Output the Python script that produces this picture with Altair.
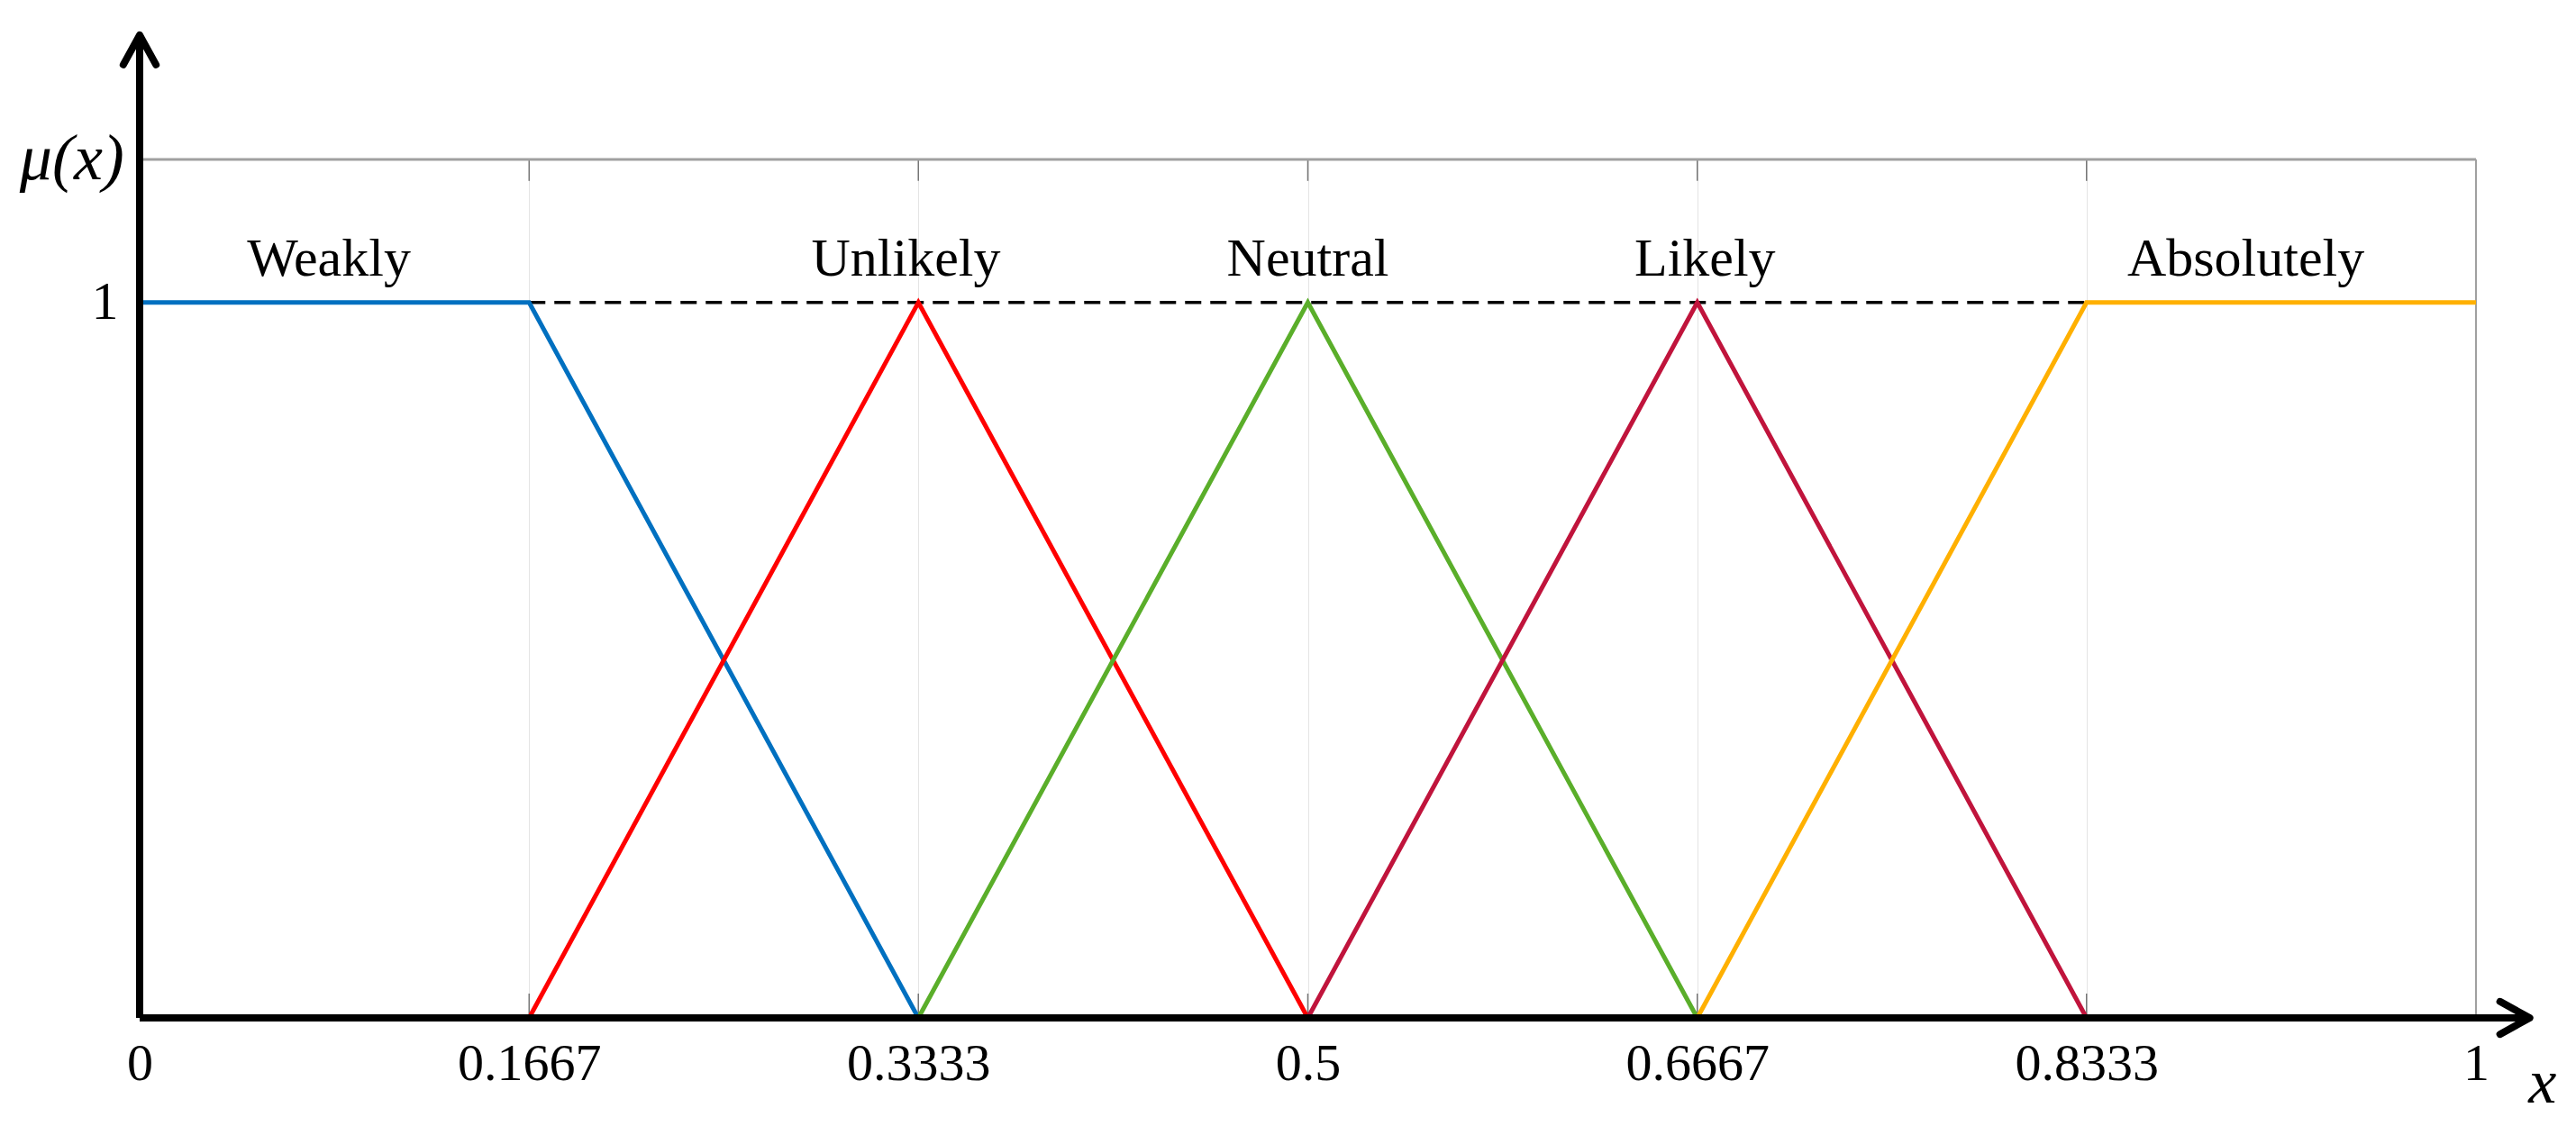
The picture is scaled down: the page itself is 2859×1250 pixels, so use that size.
import altair as alt
import pandas as pd

# ---- data ----
names = ["Weakly", "Unlikely", "Neutral", "Likely", "Absolutely"]
colors = ["#0070C0", "#FF0000", "#5AAE2A", "#C0143C", "#FFB000"]
xs = [[0, 0.1667, 0.3333], [0.1667, 0.3333, 0.5], [0.3333, 0.5, 0.6667],
      [0.5, 0.6667, 0.8333], [0.6667, 0.8333, 1]]
ys = [[1, 1, 0], [0, 1, 0], [0, 1, 0], [0, 1, 0], [0, 1, 1]]
label_x = [0.081, 0.328, 0.5, 0.67, 0.9015]
label_y = 1.037
tick_values = [0, 0.1667, 0.3333, 0.5, 0.6667, 0.8333, 1]
y_tick_values = [1]
y_top = 1.2
y_arrow = 1.374
x_arrow = 1.023
dash_from, dash_to = 0.1667, 0.8333

FONT = "Liberation Serif"

rows = []
for n, xx, yy in zip(names, xs, ys):
    for i, (a, b) in enumerate(zip(xx, yy)):
        rows.append({"name": n, "x": a, "y": b, "i": i})
lines_df = pd.DataFrame(rows)

xs_scale = alt.Scale(domain=[0, 1], nice=False, zero=False)
ys_scale = alt.Scale(domain=[0, y_top], nice=False, zero=False)

x_axis = alt.Axis(values=tick_values, format=".4~f", grid=True, gridColor="#e4e4e4",
                  gridWidth=1, domain=False, ticks=False, labelFont=FONT,
                  labelFontSize=58, labelColor="#000", labelPadding=22, title=None,
                  labelFlush=False)
y_axis = alt.Axis(values=y_tick_values, format="~f", grid=False, domain=False, ticks=False,
                  labelFont=FONT, labelFontSize=60, labelColor="#000",
                  labelPadding=24, title=None)

lines = alt.Chart(lines_df).mark_line(strokeWidth=5).encode(
    x=alt.X("x:Q", scale=xs_scale, axis=x_axis),
    y=alt.Y("y:Q", scale=ys_scale, axis=y_axis),
    color=alt.Color("name:N", scale=alt.Scale(domain=names, range=colors), legend=None),
    order="i:Q",
)

dash = alt.Chart(pd.DataFrame({"x": [dash_from], "x2": [dash_to], "y": [1]})).mark_rule(
    color="#000", strokeWidth=3.5, strokeDash=[18, 10]
).encode(x="x:Q", x2="x2:Q", y="y:Q")

stub_df = pd.DataFrame({"x": tick_values[1:-1]})
top_stub = alt.Chart(stub_df).mark_rule(color="#777", strokeWidth=1.5).encode(
    x="x:Q", y=alt.datum(y_top), y2=alt.datum(y_top - 0.03))
bot_stub = alt.Chart(stub_df).mark_rule(color="#777", strokeWidth=1.5).encode(
    x="x:Q", y=alt.datum(0), y2=alt.datum(0.034))

top_border = alt.Chart(pd.DataFrame({"a": [0]})).mark_rule(color="#a0a0a0", strokeWidth=3).encode(
    x=alt.datum(0), x2=alt.datum(1), y=alt.datum(y_top))
right_border = alt.Chart(pd.DataFrame({"a": [0]})).mark_rule(color="#a0a0a0", strokeWidth=2).encode(
    x=alt.datum(1), y=alt.datum(0), y2=alt.datum(y_top))

y_axis_line = alt.Chart(pd.DataFrame({"a": [0]})).mark_rule(color="#000", strokeWidth=8).encode(
    x=alt.datum(0), y=alt.datum(0), y2=alt.datum(y_arrow))
x_axis_line = alt.Chart(pd.DataFrame({"a": [0]})).mark_rule(color="#000", strokeWidth=8).encode(
    x=alt.datum(0), x2=alt.datum(x_arrow), y=alt.datum(0))

arrow_up = alt.Chart(pd.DataFrame({"a": [0]})).mark_point(
    shape="M-0.55,1L0,0L0.55,1", filled=False, color="#000", strokeWidth=8,
    size=4356, opacity=1, strokeCap="round", strokeJoin="round"
).encode(x=alt.datum(0), y=alt.datum(y_arrow))
arrow_right = alt.Chart(pd.DataFrame({"a": [0]})).mark_point(
    shape="M-1,-0.55L0,0L-1,0.55", filled=False, color="#000", strokeWidth=8,
    size=4356, opacity=1, strokeCap="round", strokeJoin="round"
).encode(x=alt.datum(x_arrow), y=alt.datum(0))

labels = alt.Chart(pd.DataFrame({"x": label_x, "y": [label_y] * 5, "t": names})).mark_text(
    font=FONT, fontSize=60, color="#000", align="center", baseline="alphabetic"
).encode(x="x:Q", y="y:Q", text="t:N")

mu = alt.Chart(pd.DataFrame({"x": [-0.029], "y": [y_top], "t": ["μ(x)"]})).mark_text(
    font=FONT, fontSize=72, fontStyle="italic", color="#000", align="center", baseline="middle"
).encode(x="x:Q", y="y:Q", text="t:N")

xlab = alt.Chart(pd.DataFrame({"x": [1.0285], "y": [-0.092], "t": ["x"]})).mark_text(
    font=FONT, fontSize=70, fontStyle="italic", color="#000", align="center", baseline="middle"
).encode(x="x:Q", y="y:Q", text="t:N")

chart = alt.layer(
    top_stub, bot_stub, top_border, right_border, dash, lines,
    y_axis_line, x_axis_line, arrow_up, arrow_right, labels, mu, xlab
).properties(
    width=2593, height=953,
    padding={"left": 147, "top": 169, "right": 100, "bottom": 112},
    autosize=alt.AutoSizeParams(type="none"),
).configure_view(stroke=None).configure(background="white")

chart.save("out.html", embed_options={"renderer": "svg", "actions": False})
